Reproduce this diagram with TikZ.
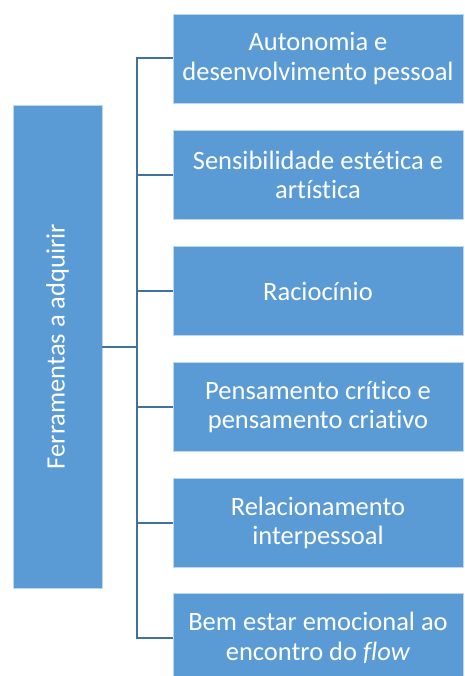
\documentclass[tikz,border=0pt]{standalone}
\usepackage{fontspec}
\setmainfont[Ligatures={NoCommon}]{Carlito}
\definecolor{boxblue}{HTML}{5B9BD5}
\definecolor{lineblue}{HTML}{41719C}
\definecolor{edgeblue}{HTML}{BDD7EE}
\tikzset{
  x=1pt, y=-1pt,
  itembox/.style={draw=edgeblue, line width=0.8pt, fill=boxblue, text=white, minimum width=290pt, minimum height=89pt, align=center, font=\fontsize{26.5}{29.5}\selectfont, inner sep=2pt},
  rootbox/.style={draw=edgeblue, line width=0.8pt, fill=boxblue, text=white, minimum width=483pt, minimum height=89pt, align=center, font=\fontsize{26.5}{29.5}\selectfont, rotate=90},
  conn/.style={draw=lineblue, line width=2pt}
}
\begin{document}
\begin{tikzpicture}
\useasboundingbox (0,0) rectangle (464,676);
\node[rootbox] (root) at (57.5,346.5) {Ferramentas a adquirir};
\node[itembox] (b1) at (318,58.5) {Autonomia e\\desenvolvimento pessoal};
\node[itembox] (b2) at (318,175) {Sensibilidade estética e\\artística};
\node[itembox] (b3) at (318,291) {Raciocínio};
\node[itembox] (b4) at (318,407) {Pensamento crítico e\\pensamento criativo};
\node[itembox] (b5) at (318,523) {Relacionamento\\interpessoal};
\node[itembox] (b6) at (318,638) {Bem estar emocional ao\\encontro do \textit{flow}};
\coordinate (sp) at (137,346.5);
\draw[conn] (root.south) -- (sp);
\draw[conn, line cap=rect] (137,58.5) -- (137,638);
\foreach \b in {b1,b2,b3,b4,b5,b6}{
  \draw[conn] (\b.west -| sp) -- (\b.west);
}
\end{tikzpicture}
\end{document}
